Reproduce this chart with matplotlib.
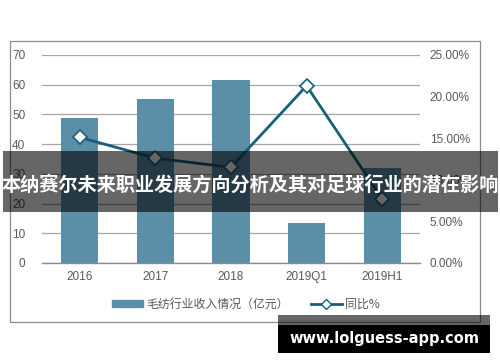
import matplotlib
matplotlib.use("Agg")
import matplotlib.pyplot as plt
import matplotlib.ticker as mticker
from matplotlib.patches import Rectangle
from matplotlib.lines import Line2D
from matplotlib.patches import Patch
import numpy as np

plt.rcParams["font.family"] = ["Liberation Sans", "Noto Sans CJK SC", "DejaVu Sans"]

categories = ["2016", "2017", "2018", "2019Q1", "2019H1"]
revenue = [48.8, 55.2, 61.5, 13.6, 32.1]          # 亿元
yoy = [15.1, 12.6, 11.5, 21.3, 7.7]               # %
left_ticks = [0, 10, 20, 30, 40, 50, 60, 70]
right_ticks = [0, 5, 10, 15, 20, 25]
bar_label = "毛纺行业收入情况（亿元）"
line_label = "同比%"
banner = "本纳赛尔未来职业发展方向分析及其对足球行业的潜在影响"
site = "www.lolguess-app.com"

BAR = "#5b8fa8"
LINE = "#17607a"
TXT = "#595959"

fig = plt.figure(figsize=(5, 3.62), dpi=100)
# outer chart frame
fig.patches.append(Rectangle((0.02, 0.1105), 0.94, 0.776, transform=fig.transFigure,
                             fill=False, ec="#8c8c8c", lw=0.9, zorder=0))

ax = fig.add_axes([0.084, 0.2735, 0.756, 0.5746])
x = np.arange(len(categories))
ax.bar(x, revenue, width=0.49, color=BAR, zorder=2)
ax.set_ylim(0, 70); ax.set_yticks(left_ticks)
ax.set_xlim(-0.5, len(categories) - 0.5)
ax.set_xticks(x); ax.set_xticklabels(categories)
ax.grid(axis="y", color="#a6a6a6", lw=0.9, zorder=0)
ax.set_axisbelow(True)
for s in ["top", "right", "left"]: ax.spines[s].set_visible(False)
ax.spines["bottom"].set_color("#8c8c8c"); ax.spines["bottom"].set_linewidth(1.0)
ax.tick_params(axis="both", length=0, labelsize=8.5, colors=TXT)
ax.tick_params(axis="y", pad=12)
ax.tick_params(axis="x", pad=6)

ax2 = ax.twinx()
ax2.plot(x, yoy, color=LINE, lw=2, marker="D", ms=7, mfc="white", mec=LINE, mew=1.2, zorder=5)
ax2.set_ylim(0, 25); ax2.set_yticks(right_ticks)
ax2.yaxis.set_major_formatter(mticker.FuncFormatter(lambda v, _: f"{v:.2f}%"))
for s in ax2.spines.values(): s.set_visible(False)
ax2.tick_params(axis="y", length=0, labelsize=8.5, colors=TXT, pad=7)

handles = [Patch(color=BAR), Line2D([], [], color=LINE, lw=2, marker="D", ms=5, mfc="white", mec=LINE)]
fig.legend(handles, [bar_label, line_label], loc="center", bbox_to_anchor=(0.492, 0.16), ncol=2,
           frameon=False, handlelength=2.6, handleheight=0.5, columnspacing=1.8, handletextpad=0.3,
           prop={"family": ["Noto Sans CJK SC"], "size": 8.6}, labelcolor=TXT)

# dark banner overlay with title
fig.patches.append(Rectangle((0.006, 0.414), 0.99, 0.1685, transform=fig.transFigure,
                             color="black", alpha=0.6, lw=0, zorder=10))
fig.text(0.5, 0.489, banner, ha="center", va="center", color="white", fontsize=13.8,
         fontweight="bold", family=["Noto Sans CJK SC"], zorder=11)

# site watermark at the bottom right
fig.patches.append(Rectangle((0.556, 1 - 325 / 362), 0.424, 10 / 362, transform=fig.transFigure,
                             color="black", alpha=0.6, lw=0, zorder=10))
fig.patches.append(Rectangle((0.556, 1 - 353 / 362), 0.424, 28 / 362, transform=fig.transFigure,
                             color="black", lw=0, zorder=10))
fig.text(0.768, 1 - 339 / 362, site, ha="center", va="center", color="white", fontsize=10.5,
         fontweight="bold", family=["DejaVu Sans"], zorder=11)

fig.savefig("out.png", dpi=100)
